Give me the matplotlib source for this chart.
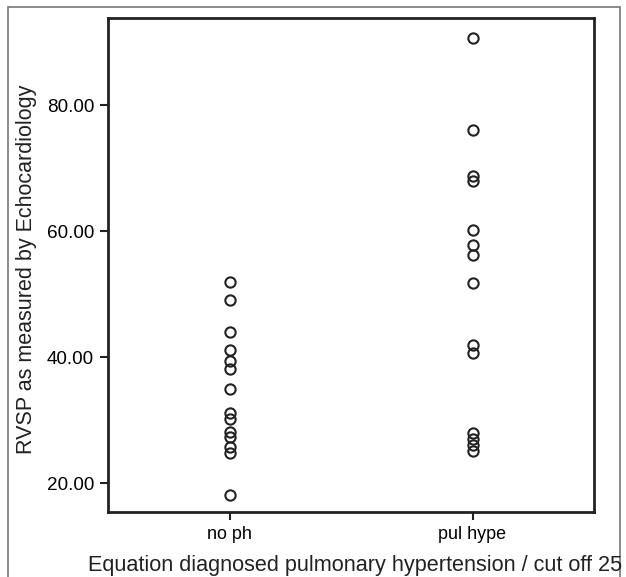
import numpy as np
import matplotlib
matplotlib.use("Agg")
from matplotlib import pyplot as plt
from matplotlib.patches import Rectangle

plt.rcParams['font.family'] = ['Liberation Sans', 'DejaVu Sans']

# data
groups = ['no ph', 'pul hype']
rvsp_no_ph = [52, 49, 44, 41.2, 39.4, 38.1, 35, 31.1, 30.2, 28.2, 27.4, 25.8, 24.8, 18.1]
rvsp_pul_hype = [90.6, 76, 68.8, 67.9, 60.2, 57.8, 56.2, 51.7, 42, 40.6, 28, 27, 26, 25.1]
yticks = [20, 40, 60, 80]

W, H = 626, 577
fig = plt.figure(figsize=(W/100, H/100), dpi=100)
ax = fig.add_axes([108/W, 1-512/H, (594-108)/W, (512-18)/H])

for i, vals in enumerate([rvsp_no_ph, rvsp_pul_hype]):
    ax.plot(np.full(len(vals), i), vals, 'o', mfc='none', mec='#222222',
            ms=7.4, mew=1.5, ls='none')

ax.set_xlim(-0.5, 1.5)
ax.set_ylim(15.45, 93.8)
ax.set_xticks([0, 1])
ax.set_xticklabels(groups, fontsize=12.9)
ax.set_yticks(yticks)
ax.set_yticklabels(['%.2f' % v for v in yticks], fontsize=13.6)
ax.tick_params(direction='out', length=6, width=1.5, color='#222222', pad=4)
for s in ax.spines.values():
    s.set_linewidth(2)
    s.set_color('#222222')

fig.text(27/W, 1-269/H, 'RVSP as measured by Echocardiology', rotation=90,
         ha='center', va='center', fontsize=15.5, color='#222222')
fig.text(355/W, 1-565/H, 'Equation diagnosed pulmonary hypertension / cut off 25',
         ha='center', va='center', fontsize=15.6, color='#222222')

# outer frame
fig.patches.append(Rectangle((8/W, -0.1), (620-8)/W, 1.1-7/H, transform=fig.transFigure,
                             fill=False, edgecolor='#777777', lw=1.2))

fig.savefig('out.png', dpi=100, facecolor='white')
